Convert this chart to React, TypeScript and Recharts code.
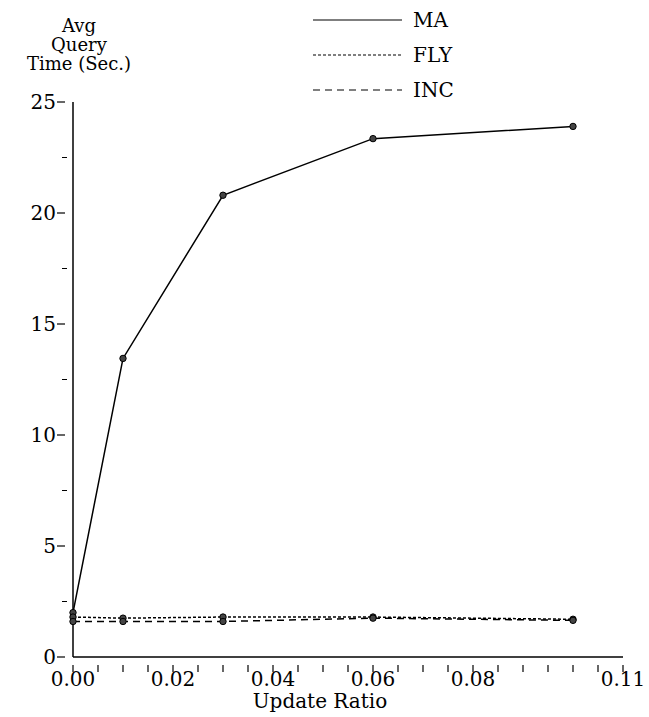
import React from 'react';
import { LineChart, Line, XAxis, YAxis, Label } from 'recharts';

// update ratio on x, avg query time (sec.) on y
const updateRatios = [0, 0.01, 0.03, 0.06, 0.1];
const maTimes = [2.0, 13.45, 20.8, 23.35, 23.9];
const flyTimes = [1.8, 1.75, 1.8, 1.8, 1.7];
const incTimes = [1.6, 1.6, 1.6, 1.75, 1.65];

const xTicks = Array.from({ length: 23 }, (_, i) => (i * 5) / 1000);
const xLabelled = [0, 0.02, 0.04, 0.06, 0.08, 0.11];
const yTicks = [0, 2.5, 5, 7.5, 10, 12.5, 15, 17.5, 20, 22.5, 25];
const yLabelled = [0, 5, 10, 15, 20, 25];
const yTitleLines = ['Avg', 'Query', 'Time (Sec.)'];

const series = [
  { key: 'MA', dash: undefined as string | undefined },
  { key: 'FLY', dash: '3 2' },
  { key: 'INC', dash: '7 5' },
];

const data = updateRatios.map((x, i) => ({
  x,
  MA: maTimes[i],
  FLY: flyTimes[i],
  INC: incTimes[i],
}));

const FONT = '"DejaVu Serif", "Liberation Serif", serif';
const FS = 20;

const XTick = (props: any) => {
  const { x, y, payload } = props;
  const v = payload.value;
  const show = xLabelled.some((l) => Math.abs(l - v) < 1e-9);
  return (
    <g>
      <line x1={x} y1={y} x2={x} y2={y + 7} stroke="#000" strokeWidth={1.2} />
      {show && (
        <text x={x} y={y + 21} textAnchor="middle" fontFamily={FONT} fontSize={FS} fill="#000">
          {v.toFixed(2)}
        </text>
      )}
    </g>
  );
};

const YTick = (props: any) => {
  const { x, y, payload } = props;
  const v = payload.value;
  const show = yLabelled.includes(v);
  return (
    <g>
      {show ? (
        <line x1={x - 8} y1={y} x2={x} y2={y} stroke="#000" strokeWidth={1.2} />
      ) : (
        <line x1={x - 3} y1={y} x2={x + 2} y2={y} stroke="#000" strokeWidth={1} />
      )}
      {show && (
        <text x={x - 9} y={y + 7} textAnchor="end" fontFamily={FONT} fontSize={FS} fill="#000">
          {String(v)}
        </text>
      )}
    </g>
  );
};

const Dot = (props: any) => {
  const { cx, cy } = props;
  if (cx == null || cy == null) return null;
  return <circle cx={cx} cy={cy} r={3.2} fill="#444" stroke="#000" strokeWidth={1} />;
};

// stacked title, lines packed tight like the original
const YTitle = () => (
  <text textAnchor="middle" fontFamily={FONT} fontSize={18} fill="#000">
    {yTitleLines.map((t, i) => (
      <tspan key={t} x={79} y={32 + i * 19}>
        {t}
      </tspan>
    ))}
  </text>
);

const LegendOverlay = () => (
  <svg width={200} height={110} style={{ position: 'absolute', left: 313, top: 0 }}>
    {series.map((s, i) => {
      const y = 20 + i * 35;
      return (
        <g key={s.key}>
          <line x1={0} y1={y} x2={89} y2={y} stroke="#000" strokeWidth={1.2} strokeDasharray={s.dash} />
          <text x={100} y={y + 7} fontFamily={FONT} fontSize={FS} fill="#000">
            {s.key}
          </text>
        </g>
      );
    })}
  </svg>
);

export default function App() {
  return (
    <div style={{ position: 'absolute', left: 0, top: 0, width: 649, height: 717, background: '#fff' }}>
      <LineChart
        width={649}
        height={717}
        data={data}
        margin={{ top: 102, right: 26, bottom: 0, left: 0 }}
      >
        <XAxis
          dataKey="x"
          type="number"
          domain={[0, 0.11]}
          ticks={xTicks}
          interval={0}
          tick={<XTick />}
          tickLine={false}
          axisLine={{ stroke: '#000', strokeWidth: 1.5 }}
          height={60}
        >
          <Label
            value="Update Ratio"
            position="insideBottom"
            offset={0}
            dx={-28}
            dy={-9}
            style={{ fontFamily: FONT, fontSize: FS, fill: '#000' }}
          />
        </XAxis>
        <YAxis
          type="number"
          domain={[0, 25]}
          ticks={yTicks}
          interval={0}
          tick={<YTick />}
          tickLine={false}
          axisLine={{ stroke: '#000', strokeWidth: 1.5 }}
          width={73}
        >
          <Label content={<YTitle />} />
        </YAxis>
        {series.map((s) => (
          <Line
            key={s.key}
            type="linear"
            dataKey={s.key}
            stroke="#000"
            strokeWidth={1.5}
            strokeDasharray={s.dash}
            dot={<Dot />}
            activeDot={false}
            isAnimationActive={false}
          />
        ))}
      </LineChart>
      <LegendOverlay />
    </div>
  );
}
